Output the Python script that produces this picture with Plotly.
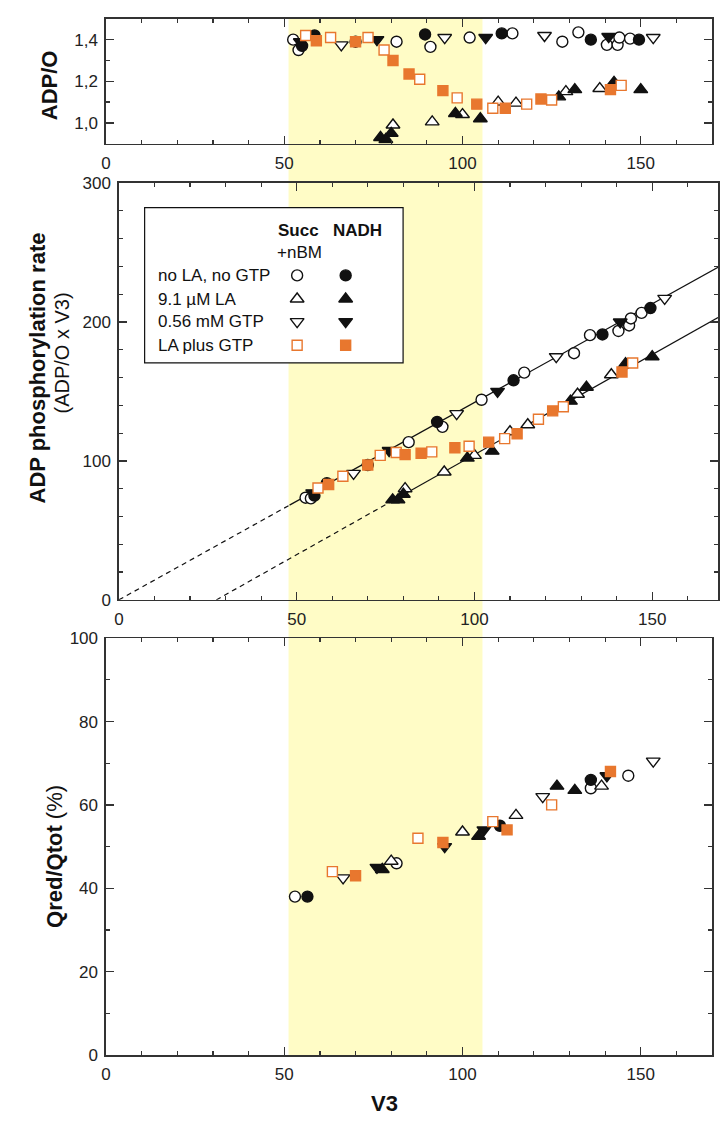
import plotly.graph_objects as go

# ---------------- data ----------------
# Top (ADP/O) and middle (ADP phosphorylation rate) panels share V3 values
succ_ctrl_v3   = [52.5, 54, 81.5, 91, 102, 114, 128, 132.5, 140.5, 143.5, 144, 147]
succ_ctrl_adpo = [1.40, 1.35, 1.39, 1.365, 1.41, 1.43, 1.39, 1.435, 1.375, 1.375, 1.41, 1.405]
succ_ctrl_rate = [73.5, 73, 113.5, 124.5, 144, 163.5, 177.5, 190.5, 193.5, 197.5, 202.5, 206.5]

nadh_ctrl_v3   = [55, 58.5, 70, 89.5, 111, 136, 149.5]
nadh_ctrl_adpo = [1.37, 1.42, 1.39, 1.425, 1.43, 1.40, 1.40]
nadh_ctrl_rate = [75, 84, 97, 128, 158, 191, 210]

succ_la_v3   = [80.5, 91.5, 100, 110, 115, 129, 138.5]
succ_la_adpo = [0.99, 1.005, 1.04, 1.10, 1.095, 1.15, 1.165]
succ_la_rate = [80, 92, 104, 121, 126, 148, 162]

nadh_la_v3   = [77, 78.5, 80, 98, 105, 127, 131.5, 142.5, 150]
nadh_la_adpo = [0.93, 0.92, 0.95, 1.045, 1.02, 1.125, 1.16, 1.195, 1.16]
nadh_la_rate = [72, 72, 76, 102, 107, 143, 153, 170, 175]

succ_gtp_v3   = [66, 95, 123, 153.5]
succ_gtp_adpo = [1.375, 1.41, 1.42, 1.41]
succ_gtp_rate = [91, 134, 175, 217]

nadh_gtp_v3   = [54.5, 76, 106.5, 141]
nadh_gtp_adpo = [1.39, 1.40, 1.41, 1.415]
nadh_gtp_rate = [77, 107.5, 150, 200]

succ_lagtp_v3   = [56, 63, 73.5, 78, 88, 98.5, 108.5, 118, 125, 144.5]
succ_lagtp_adpo = [1.42, 1.41, 1.41, 1.35, 1.21, 1.12, 1.07, 1.09, 1.11, 1.18]
succ_lagtp_rate = [80.5, 89, 104, 106, 106.5, 110.5, 116, 130, 139, 170.5]

nadh_lagtp_v3   = [59, 70, 80.5, 85, 94.5, 104, 112, 122, 141.5]
nadh_lagtp_adpo = [1.395, 1.39, 1.30, 1.235, 1.155, 1.09, 1.07, 1.115, 1.16]
nadh_lagtp_rate = [83, 97, 104.5, 105.5, 109.5, 113.5, 119.5, 136, 164]

# Bottom panel: V3 and Qred/Qtot (%)
q_succ_ctrl_v3 = [53, 81.5, 136, 146.5]
q_succ_ctrl    = [38, 46, 64, 67]
q_nadh_ctrl_v3 = [56.5, 110.5, 136]
q_nadh_ctrl    = [38, 55, 66]
q_succ_la_v3   = [80, 100, 115, 139]
q_succ_la      = [46.5, 53.5, 57.5, 64.5]
q_nadh_la_v3   = [77.5, 104.5, 126.5, 131.5]
q_nadh_la      = [44.5, 52.5, 64.5, 63.5]
q_succ_gtp_v3  = [66.5, 122.5, 153.5]
q_succ_gtp     = [42.5, 62, 70.5]
q_nadh_gtp_v3  = [76, 95, 106, 140.5]
q_nadh_gtp     = [45, 50, 54, 67]
q_succ_lagtp_v3 = [63.5, 87.5, 108.5, 125]
q_succ_lagtp    = [44, 52, 56, 60]
q_nadh_lagtp_v3 = [70, 94.5, 112.5, 141.5]
q_nadh_lagtp    = [43, 51, 54, 68]

# Linear fits in the middle panel: rate = slope * V3 + intercept
fit_upper_slope, fit_upper_intercept = 1.42, 0.0
fit_lower_slope, fit_lower_intercept = 1.44, -39.5
fit_upper_dash_x = [0, 48]
fit_upper_solid_x = [48, 168.5]
fit_lower_dash_x = [27.4, 76]
fit_lower_solid_x = [76, 168.5]

# Shaded V3 range (yellow band)
band_v3 = [51.2, 105.6]

legend_rows = ["no LA, no GTP", "9.1 \u00b5M LA", "0.56 mM GTP", "LA plus GTP"]

# ---------------- styling ----------------
W, H = 720, 1124
FONT = "Liberation Sans, Arial, sans-serif"
BLACK = "#111111"
ORANGE = "#E8772E"
YELLOW = "#FFFCC6"
AX = "#333333"


def px(x):
    return x / W


def py(y):
    return 1 - y / H


series = [
    # name, v3, adpo, rate, qv3, q, symbol, size, fill, line
    ("Succ no LA no GTP", succ_ctrl_v3, succ_ctrl_adpo, succ_ctrl_rate, q_succ_ctrl_v3, q_succ_ctrl,
     "circle", 11, "white", BLACK),
    ("NADH no LA no GTP", nadh_ctrl_v3, nadh_ctrl_adpo, nadh_ctrl_rate, q_nadh_ctrl_v3, q_nadh_ctrl,
     "circle", 11, BLACK, BLACK),
    ("Succ LA", succ_la_v3, succ_la_adpo, succ_la_rate, q_succ_la_v3, q_succ_la,
     "triangle-up", 12, "white", BLACK),
    ("NADH LA", nadh_la_v3, nadh_la_adpo, nadh_la_rate, q_nadh_la_v3, q_nadh_la,
     "triangle-up", 12, BLACK, BLACK),
    ("Succ GTP", succ_gtp_v3, succ_gtp_adpo, succ_gtp_rate, q_succ_gtp_v3, q_succ_gtp,
     "triangle-down", 12, "white", BLACK),
    ("NADH GTP", nadh_gtp_v3, nadh_gtp_adpo, nadh_gtp_rate, q_nadh_gtp_v3, q_nadh_gtp,
     "triangle-down", 12, BLACK, BLACK),
    ("Succ LA+GTP", succ_lagtp_v3, succ_lagtp_adpo, succ_lagtp_rate, q_succ_lagtp_v3, q_succ_lagtp,
     "square", 10, "white", ORANGE),
    ("NADH LA+GTP", nadh_lagtp_v3, nadh_lagtp_adpo, nadh_lagtp_rate, q_nadh_lagtp_v3, q_nadh_lagtp,
     "square", 10, ORANGE, ORANGE),
]

fig = go.Figure()

# fit lines (middle panel)
for slope, icpt, dx, sx in [
    (fit_upper_slope, fit_upper_intercept, fit_upper_dash_x, fit_upper_solid_x),
    (fit_lower_slope, fit_lower_intercept, fit_lower_dash_x, fit_lower_solid_x),
]:
    fig.add_trace(go.Scatter(x=dx, y=[slope * v + icpt for v in dx], mode="lines",
                             line=dict(color=BLACK, width=1.2, dash="5px,4px"),
                             xaxis="x2", yaxis="y2", showlegend=False, hoverinfo="skip"))
    fig.add_trace(go.Scatter(x=sx, y=[slope * v + icpt for v in sx], mode="lines",
                             line=dict(color=BLACK, width=1.2),
                             xaxis="x2", yaxis="y2", showlegend=False, hoverinfo="skip"))

for name, v3, adpo, rate, qv3, q, sym, size, fill, lc in series:
    mk = dict(symbol=sym, size=size, color=fill, line=dict(color=lc, width=1.4))
    fig.add_trace(go.Scatter(x=v3, y=adpo, mode="markers", marker=mk, name=name,
                             xaxis="x", yaxis="y", showlegend=False))
    fig.add_trace(go.Scatter(x=v3, y=rate, mode="markers", marker=mk, name=name,
                             xaxis="x2", yaxis="y2", showlegend=False))
    fig.add_trace(go.Scatter(x=qv3, y=q, mode="markers", marker=mk, name=name,
                             xaxis="x3", yaxis="y3", showlegend=False))

# legend glyphs on a full-page helper axis measured in page pixels
leg_rows_y = [271, 295, 318, 342]
leg_open_x, leg_fill_x = 295, 344
for i in range(4):
    for j, xx in ((2 * i, leg_open_x), (2 * i + 1, leg_fill_x)):
        _, _, _, _, _, _, sym, size, fill, lc = series[j]
        fig.add_trace(go.Scatter(x=[xx], y=[leg_rows_y[i]], mode="markers",
                                 marker=dict(symbol=sym, size=size, color=fill,
                                             line=dict(color=lc, width=1.4)),
                                 xaxis="x4", yaxis="y4", showlegend=False, hoverinfo="skip"))


def axis(domain, rng, size=17, **kw):
    d = dict(domain=domain, range=rng, showline=True, linecolor=AX, linewidth=1.6,
             mirror="ticks", ticks="inside", ticklen=8, tickwidth=1.4, tickcolor=AX,
             showgrid=False, zeroline=False, ticklabelstandoff=3,
             tickfont=dict(family=FONT, size=size, color="#222222"))
    d.update(kw)
    return d


minor_x = dict(ticks="inside", ticklen=4, tickwidth=1.2, tickcolor=AX, dtick=10, tick0=0)

top_x = [px(102), px(714)]
top_y = [py(137), py(10)]
mid_x = [px(115), 1.0]
mid_y = [py(601), py(177)]
bot_x = [px(102), px(714)]
bot_y = [py(1064), py(640)]

fig.update_layout(
    width=W, height=H,
    margin=dict(l=0, r=0, t=0, b=0),
    paper_bgcolor="white", plot_bgcolor="rgba(0,0,0,0)",
    separators=",.",
    showlegend=False,
    hovermode=False,
    xaxis=axis(top_x, [0, 170], anchor="y", tickvals=[0, 50, 100, 150], minor=minor_x),
    yaxis=axis(top_y, [0.9, 1.5], anchor="x", tickvals=[1.0, 1.2, 1.4], tickformat=".1f",
               minor=dict(ticks="inside", ticklen=4, tickwidth=1.2, tickcolor=AX, dtick=0.1, tick0=0.9)),
    xaxis2=axis(mid_x, [0, 168.5], anchor="y2", tickvals=[0, 50, 100, 150], minor=minor_x),
    yaxis2=axis(mid_y, [0, 300], anchor="x2", tickvals=[0, 100, 200, 300],
                minor=dict(ticks="inside", ticklen=4, tickwidth=1.2, tickcolor=AX, dtick=20, tick0=0)),
    xaxis3=axis(bot_x, [0, 170], anchor="y3", tickvals=[0, 50, 100, 150], minor=minor_x),
    yaxis3=axis(bot_y, [0, 100], anchor="x3", tickvals=[0, 20, 40, 60, 80, 100],
                minor=dict(ticks="inside", ticklen=4, tickwidth=1.2, tickcolor=AX, dtick=10, tick0=0)),
    xaxis4=dict(domain=[0, 1], range=[0, W], visible=False, fixedrange=True, anchor="y4"),
    yaxis4=dict(domain=[0, 1], range=[H, 0], visible=False, fixedrange=True, anchor="x4"),
)

# yellow band (V3 range) spanning all three panels, and the legend box
band_left = px(102) + (px(714) - px(102)) * band_v3[0] / 170
band_right = px(102) + (px(714) - px(102)) * band_v3[1] / 170
fig.add_shape(type="rect", xref="paper", yref="paper", x0=band_left, x1=band_right,
              y0=bot_y[0], y1=top_y[1], fillcolor=YELLOW, line=dict(width=0), layer="below")
fig.add_shape(type="rect", xref="paper", yref="paper", x0=px(141), x1=px(402),
              y0=py(360), y1=py(202), fillcolor="white", line=dict(color=BLACK, width=1.2),
              layer="below")


def ann(text, x, y, size, angle=0, xanchor="center", color="#111111"):
    fig.add_annotation(text=text, x=px(x), y=py(y), xref="paper", yref="paper",
                       showarrow=False, textangle=angle, xanchor=xanchor, yanchor="middle",
                       font=dict(family=FONT, size=size, color=color))


# axis titles
ann("<b>ADP/O</b>", 45, 78, 22, angle=-90)
ann("<b>ADP phosphorylation rate</b>", 33, 365, 22, angle=-90)
ann("(ADP/O x V3)", 58, 350, 20, angle=-90)
ann("<b>Qred/Qtot</b> (%)", 50, 862, 22, angle=-90)
ann("<b>V3</b>", 383, 1113, 22)

# legend texts
ann("<b>Succ</b>", 296, 225, 17)
ann("+nBM", 297, 248, 17)
ann("<b>NADH</b>", 356, 225, 17)
for label, yy in zip(legend_rows, leg_rows_y):
    ann(label, 152, yy, 17, xanchor="left")

fig.write_html(
    "out.html",
    config={"displayModeBar": False, "staticPlot": True},
    post_script="document.body.style.margin='0';document.body.style.overflow='hidden';",
)
